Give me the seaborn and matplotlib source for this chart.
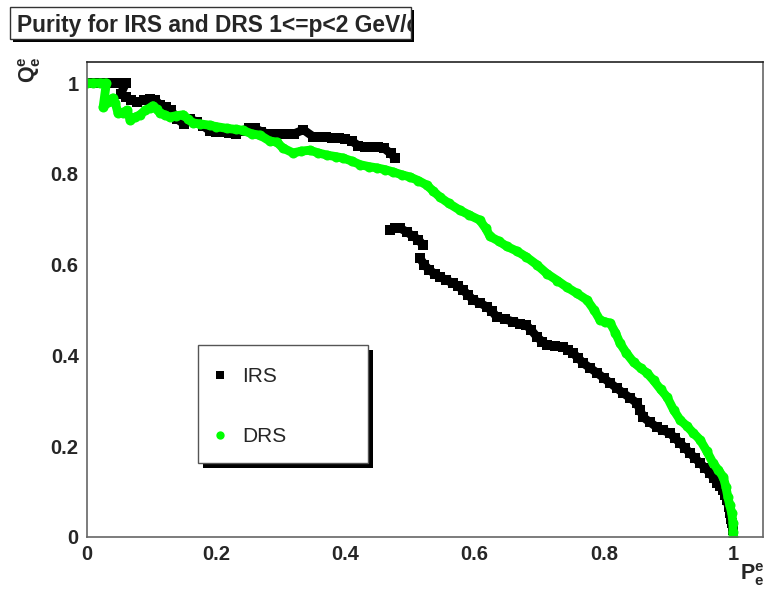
import numpy as np
import pandas as pd
import seaborn as sns
import matplotlib
matplotlib.use("Agg")
import matplotlib.pyplot as plt
from matplotlib.patches import Rectangle
from matplotlib.lines import Line2D
from matplotlib.ticker import MultipleLocator

# ---------------- data ----------------
title = "Purity for IRS and DRS 1<=p<2 GeV/c"
series_names = ["IRS", "DRS"]
x_ticks = [0, 0.2, 0.4, 0.6, 0.8, 1]
x_tick_labels = ["0", "0.2", "0.4", "0.6", "0.8", "1"]
y_ticks = [0, 0.2, 0.4, 0.6, 0.8, 1]
y_tick_labels = ["0", "0.2", "0.4", "0.6", "0.8", "1"]

# IRS (black squares), three connected pieces
irs_x = [0, 0.01, 0.02, 0.03, 0.04, 0.05, 0.06,
         0.052, 0.06, 0.068, 0.078, 0.088, 0.098, 0.106, 0.113, 0.122, 0.13,
         0.14, 0.15, 0.16, 0.17, 0.18, 0.19, 0.2, 0.21, 0.22, 0.23, 0.24, 0.25, 0.26, 0.27,
         0.28, 0.29, 0.30, 0.31, 0.32, 0.335, 0.35, 0.36, 0.37, 0.38, 0.39, 0.40, 0.41, 0.42,
         0.43, 0.44, 0.45, 0.46, 0.47, 0.477,
         0.469, 0.477, 0.485, 0.495, 0.505, 0.513, 0.52,
         0.515, 0.522, 0.53, 0.538, 0.546, 0.556, 0.567, 0.575, 0.582, 0.59, 0.598, 0.609,
         0.619, 0.627, 0.634, 0.647, 0.66, 0.67, 0.68, 0.688, 0.697, 0.705, 0.712, 0.725,
         0.737, 0.745, 0.752, 0.76, 0.768, 0.779, 0.79, 0.8, 0.81, 0.82, 0.83, 0.841, 0.851,
         0.856, 0.861, 0.871, 0.882, 0.892, 0.902, 0.91, 0.918, 0.926, 0.933, 0.941, 0.949,
         0.957, 0.964, 0.97, 0.975, 0.98, 0.985, 0.988, 0.99, 0.993, 0.995, 0.997, 0.998, 1.0]
irs_y = [1, 1, 1, 1, 1, 1, 1,
         0.975, 0.97, 0.962, 0.958, 0.962, 0.965, 0.962, 0.952, 0.947, 0.94,
         0.92, 0.91, 0.92, 0.915, 0.905, 0.895, 0.893, 0.893, 0.89, 0.887, 0.895, 0.9, 0.9, 0.893,
         0.888, 0.888, 0.887, 0.888, 0.888, 0.897, 0.882, 0.88, 0.88, 0.879, 0.878, 0.877, 0.872, 0.862,
         0.86, 0.86, 0.858, 0.856, 0.845, 0.835,
         0.676, 0.68, 0.68, 0.672, 0.662, 0.655, 0.643,
         0.615, 0.6, 0.588, 0.58, 0.573, 0.566, 0.559, 0.552, 0.544, 0.533, 0.522, 0.515,
         0.507, 0.497, 0.485, 0.48, 0.474, 0.47, 0.467, 0.455, 0.44, 0.43, 0.423, 0.42,
         0.419, 0.412, 0.405, 0.395, 0.383, 0.372, 0.361, 0.35, 0.339, 0.328, 0.317, 0.306, 0.295,
         0.28, 0.264, 0.253, 0.242, 0.235, 0.229, 0.218, 0.207, 0.196, 0.185, 0.174, 0.163,
         0.152, 0.141, 0.13, 0.119, 0.112, 0.104, 0.093, 0.081, 0.067, 0.053, 0.04, 0.03, 0.015]
irs_piece_lengths = [51, 7, 62]

# DRS (green dots)
drs_x = [0, 0.01, 0.02, 0.03, 0.025, 0.033, 0.04, 0.044, 0.048, 0.055, 0.062, 0.067, 0.075,
         0.082, 0.09, 0.097, 0.102, 0.108, 0.113, 0.12, 0.128, 0.138, 0.149, 0.157, 0.164,
         0.175, 0.19, 0.2, 0.217, 0.23, 0.241, 0.255, 0.268, 0.283, 0.294, 0.303, 0.319,
         0.332, 0.345, 0.358, 0.372, 0.385, 0.396, 0.41, 0.423, 0.436, 0.449, 0.462, 0.474,
         0.487, 0.5, 0.513, 0.526, 0.536, 0.546, 0.56, 0.577, 0.592, 0.608, 0.617, 0.624,
         0.637, 0.65, 0.665, 0.68, 0.696, 0.712, 0.728, 0.743, 0.758, 0.774, 0.785, 0.794,
         0.802, 0.81, 0.818, 0.825, 0.835, 0.846, 0.857, 0.867, 0.877, 0.888, 0.898, 0.908,
         0.918, 0.928, 0.938, 0.949, 0.959, 0.969, 0.977, 0.985, 0.989, 0.992, 0.995, 0.998,
         1.0, 1.0, 1.0]
drs_y = [1, 1, 1, 1, 0.947, 0.958, 0.967, 0.955, 0.934, 0.935, 0.94, 0.918, 0.925,
         0.93, 0.94, 0.945, 0.95, 0.942, 0.934, 0.93, 0.925, 0.928, 0.93, 0.92, 0.912,
         0.91, 0.907, 0.904, 0.9, 0.898, 0.896, 0.888, 0.885, 0.872, 0.87, 0.857, 0.846,
         0.85, 0.852, 0.846, 0.841, 0.838, 0.835, 0.828, 0.82, 0.816, 0.813, 0.809, 0.804,
         0.798, 0.793, 0.785, 0.775, 0.762, 0.749, 0.735, 0.72, 0.709, 0.698, 0.68, 0.662,
         0.652, 0.64, 0.63, 0.617, 0.6, 0.58, 0.565, 0.55, 0.537, 0.522, 0.5, 0.478,
         0.474, 0.471, 0.45, 0.427, 0.405, 0.385, 0.372, 0.361, 0.345, 0.325, 0.308, 0.28,
         0.258, 0.245, 0.23, 0.214, 0.19, 0.163, 0.148, 0.132, 0.11, 0.088, 0.07, 0.053,
         0.03, 0.012, 0.0]

# ---------------- style ----------------
sns.set_style("white")
plt.rcParams["font.family"] = ["Liberation Sans", "DejaVu Sans"]
plt.rcParams["mathtext.fontset"] = "custom"
plt.rcParams["mathtext.bf"] = "Liberation Sans:bold"
plt.rcParams["mathtext.rm"] = "Liberation Sans:bold"
plt.rcParams["mathtext.it"] = "Liberation Sans:bold"

W, H = 765, 590
fig = plt.figure(figsize=(W / 100, H / 100), dpi=100)
fig.patch.set_facecolor("white")

def fx(px):
    return px / W

def fy(py):
    return 1 - py / H

ax_l, ax_r, ax_t, ax_b = 87, 763, 62, 537
ax = fig.add_axes([fx(ax_l), fy(ax_b), (ax_r - ax_l) / W, (ax_b - ax_t) / H])

irs_df = pd.DataFrame({
    "x": irs_x, "y": irs_y,
    "piece": np.repeat(np.arange(len(irs_piece_lengths)), irs_piece_lengths),
})
drs_df = pd.DataFrame({"x": drs_x, "y": drs_y})

sns.lineplot(data=irs_df, x="x", y="y", units="piece", estimator=None, sort=False,
             color="black", linewidth=6.2, marker="s", markersize=6.8,
             markeredgewidth=0, ax=ax, legend=False)
sns.lineplot(data=drs_df, x="x", y="y", estimator=None, sort=False,
             color="#00ff00", linewidth=6.4, marker="o", markersize=7.2,
             markeredgewidth=0, ax=ax, legend=False)

ax.set_xlim(0, 1.0464)
ax.set_ylim(0, 1.0463)
ax.set_xlabel("")
ax.set_ylabel("")
ax.set_xticks(x_ticks)
ax.set_xticklabels(x_tick_labels)
ax.set_yticks(y_ticks)
ax.set_yticklabels(y_tick_labels)
ax.xaxis.set_minor_locator(MultipleLocator(0.05))
ax.yaxis.set_minor_locator(MultipleLocator(0.05))

axis_col = "#666666"
for s in ["left", "bottom", "right"]:
    ax.spines[s].set_color(axis_col)
    ax.spines[s].set_linewidth(1.2)
ax.spines["top"].set_color("#222222")
ax.spines["top"].set_linewidth(1.2)

ax.tick_params(axis="x", which="major", direction="in", length=10, width=1,
               color=axis_col, pad=6, labelsize=14.5)
ax.tick_params(axis="x", which="minor", direction="in", length=5, width=1, color=axis_col)
ax.tick_params(axis="y", which="major", direction="in", length=15, width=1,
               color=axis_col, pad=6, labelsize=14.5)
ax.tick_params(axis="y", which="minor", direction="in", length=8, width=1, color=axis_col)
ax.tick_params(top=False, right=False, which="both")
for lab in ax.get_xticklabels() + ax.get_yticklabels():
    lab.set_fontweight("bold")

# axis titles
fig.text(fx(764), fy(580), r"$\mathbf{P}^{\mathbf{e}}_{\mathbf{e}}$", ha="right",
         va="baseline", fontsize=15.5)
fig.text(fx(30), fy(56), r"$\mathbf{Q}^{\mathbf{e}}_{\mathbf{e}}$", ha="center",
         va="top", rotation=90, fontsize=15.5)

# title box with shadow
tb_l, tb_t, tb_r, tb_b = 10, 7, 411, 39
sh = 3
fig.add_artist(Rectangle((fx(tb_l + sh), fy(tb_b + sh)), (tb_r - tb_l) / W, (tb_b - tb_t) / H,
                         transform=fig.transFigure, facecolor="black", edgecolor="none", zorder=5))
tbox = Rectangle((fx(tb_l), fy(tb_b)), (tb_r - tb_l) / W, (tb_b - tb_t) / H,
                 transform=fig.transFigure, facecolor="white", edgecolor="#333333",
                 linewidth=1.0, zorder=6)
fig.add_artist(tbox)
t = fig.text(fx(17), fy(32), title, fontsize=16.4, fontweight="bold", ha="left",
             va="baseline", zorder=7)
t.set_clip_path(tbox)

# legend box with shadow
lg_l, lg_t, lg_r, lg_b = 198, 345, 368, 463
lsh = 5
fig.add_artist(Rectangle((fx(lg_l + lsh), fy(lg_b + lsh)), (lg_r - lg_l) / W, (lg_b - lg_t) / H,
                         transform=fig.transFigure, facecolor="black", edgecolor="none", zorder=5))
fig.add_artist(Rectangle((fx(lg_l), fy(lg_b)), (lg_r - lg_l) / W, (lg_b - lg_t) / H,
                         transform=fig.transFigure, facecolor="white", edgecolor="#555555",
                         linewidth=1.0, zorder=6))
fig.add_artist(Line2D([fx(220)], [fy(375)], transform=fig.transFigure, marker="s",
                      markersize=5.2, color="black", markeredgewidth=0, linestyle="none", zorder=7))
fig.add_artist(Line2D([fx(220.5)], [fy(435)], transform=fig.transFigure, marker="o",
                      markersize=6.0, color="#00ff00", markeredgewidth=0, linestyle="none", zorder=7))
fig.text(fx(242), fy(382), series_names[0], fontsize=15, ha="left", va="baseline", zorder=7)
fig.text(fx(242), fy(442), series_names[1], fontsize=15, ha="left", va="baseline", zorder=7)

fig.savefig("out.png", dpi=100, facecolor="white")
